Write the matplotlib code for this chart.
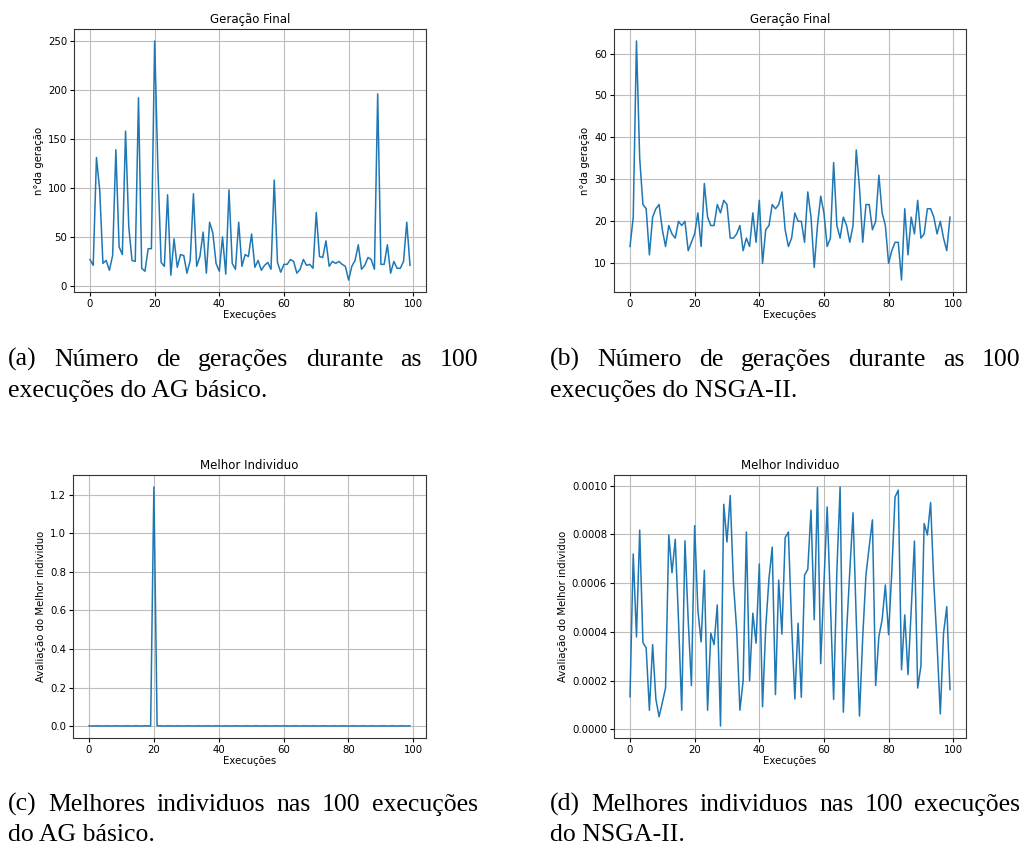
import numpy as np
import matplotlib
matplotlib.use("Agg")
from matplotlib import pyplot as plt

# execucoes 0..99
execucoes = np.arange(100)

# (a) geracao final - AG basico
ger_ag = [27, 21, 131, 98, 23, 26, 16, 31, 139, 40,
          32, 158, 60, 26, 25, 192, 18, 15, 38, 38,
          250, 120, 24, 20, 93, 11, 48, 19, 32, 31,
          13, 26, 94, 20, 30, 55, 13, 65, 54, 23,
          15, 50, 12, 98, 23, 17, 65, 20, 32, 30,
          53, 19, 26, 16, 21, 24, 17, 108, 24, 14,
          22, 22, 27, 25, 13, 17, 27, 21, 22, 18,
          75, 30, 29, 46, 20, 25, 23, 25, 22, 20,
          6, 20, 26, 42, 17, 21, 29, 27, 17, 196,
          22, 22, 42, 13, 25, 18, 18, 25, 65, 21]

# (b) geracao final - NSGA-II
ger_nsga = [14, 21, 63, 35, 24, 23, 12, 21, 23, 24,
            18, 14, 19, 17, 16, 20, 19, 20, 13, 15,
            17, 22, 14, 29, 21, 19, 19, 24, 22, 25,
            24, 16, 16, 17, 19, 13, 16, 14, 22, 15,
            25, 10, 18, 19, 24, 23, 24, 27, 18, 14,
            16, 22, 20, 20, 15, 27, 21, 9, 19, 26,
            22, 14, 16, 34, 19, 16, 21, 19, 15, 19,
            37, 28, 15, 24, 24, 18, 20, 31, 22, 19,
            10, 13, 15, 15, 6, 23, 12, 21, 17, 25,
            16, 17, 23, 23, 21, 17, 20, 16, 13, 21]

# (c) melhor individuo - AG basico
melhor_ag = [0.002, 0.001, 0.002, 0.002, 0.001, 0.002, 0.002, 0.001, 0.002, 0.002,
             0.001, 0.002, 0.002, 0.001, 0.002, 0.002, 0.001, 0.002, 0.002, 0.001,
             1.24, 0.003, 0.002, 0.001, 0.002, 0.002, 0.001, 0.002, 0.002, 0.001,
             0.002, 0.002, 0.001, 0.002, 0.002, 0.001, 0.002, 0.002, 0.001, 0.002,
             0.002, 0.001, 0.002, 0.002, 0.001, 0.002, 0.002, 0.001, 0.002, 0.002,
             0.001, 0.002, 0.002, 0.001, 0.002, 0.002, 0.001, 0.002, 0.002, 0.001,
             0.002, 0.002, 0.001, 0.002, 0.002, 0.001, 0.002, 0.002, 0.001, 0.002,
             0.002, 0.001, 0.002, 0.002, 0.001, 0.002, 0.002, 0.001, 0.002, 0.002,
             0.001, 0.002, 0.002, 0.001, 0.002, 0.002, 0.001, 0.002, 0.002, 0.001,
             0.002, 0.002, 0.001, 0.002, 0.002, 0.001, 0.002, 0.002, 0.001, 0.002]

# (d) melhor individuo - NSGA-II (x 1e-4)
melhor_nsga = [1.34, 7.2, 3.8, 8.18, 3.57, 3.34, 0.79, 3.48, 1.25, 0.52,
               1.1, 1.7, 7.98, 6.43, 7.8, 4.5, 0.79, 7.74, 4.5, 1.8,
               8.36, 4.9, 3.59, 6.53, 0.79, 3.95, 3.48, 5.11, 0.14, 9.24,
               7.69, 9.6, 6.0, 4.1, 0.79, 2.0, 8.1, 2.0, 4.77, 3.54,
               6.79, 0.93, 4.2, 6.2, 7.48, 1.43, 6.13, 3.91, 7.87, 8.1,
               4.3, 1.25, 4.36, 1.32, 6.33, 6.57, 9.0, 4.5, 9.93, 2.7,
               6.0, 9.13, 5.2, 1.23, 6.5, 9.95, 0.71, 4.0, 6.5, 8.89,
               4.5, 0.55, 3.8, 6.34, 7.5, 8.6, 1.8, 3.82, 4.5, 5.93,
               3.89, 6.5, 9.54, 9.82, 2.45, 4.7, 2.25, 4.9, 7.73, 1.7,
               2.6, 8.45, 7.98, 9.31, 6.0, 3.5, 0.64, 3.95, 5.04, 1.64]
melhor_nsga = np.array(melhor_nsga) * 1e-4

W, H = 1022, 846
fig = plt.figure(figsize=(W / 100, H / 100), dpi=100)

def box(l, t, r, b):
    return [l / W, 1 - b / H, (r - l) / W, (b - t) / H]

plots = [
    (box(74, 29, 426, 292), ger_ag, "Geração Final", "n°da geração"),
    (box(614, 29, 966, 292), ger_nsga, "Geração Final", "n°da geração"),
    (box(73, 475, 426, 738), melhor_ag, "Melhor Individuo", "Avaliação do Melhor individuo"),
    (box(614, 475, 966, 738), melhor_nsga, "Melhor Individuo", "Avaliação do Melhor individuo"),
]

for pos, y, titulo, ylab in plots:
    ax = fig.add_axes(pos)
    ax.plot(execucoes, y, color='#1f77b4', lw=1.1)
    ax.set_title(titulo, fontsize=8.5, pad=4)
    ax.set_xlabel("Execuções", fontsize=7.3, labelpad=1)
    ax.set_ylabel(ylab, fontsize=7.3, labelpad=3)
    ax.tick_params(labelsize=7.3, length=3, pad=2)
    ax.set_xticks([0, 20, 40, 60, 80, 100])
    ax.grid(True, color='#bdbdbd', lw=0.8)
    for s in ax.spines.values():
        s.set_color('#333333')

plots_ax = fig.axes
plots_ax[0].set_yticks([0, 50, 100, 150, 200, 250])
plots_ax[1].set_yticks([10, 20, 30, 40, 50, 60])
plots_ax[2].set_yticks([0.0, 0.2, 0.4, 0.6, 0.8, 1.0, 1.2])
plots_ax[3].set_yticks([0, 0.0002, 0.0004, 0.0006, 0.0008, 0.0010])
plots_ax[3].yaxis.set_major_formatter(matplotlib.ticker.FormatStrFormatter('%.4f'))

# legendas estilo LaTeX
cap_kw = dict(fontsize=18.5, family='Liberation Serif', va='baseline')
renderer = fig.canvas.get_renderer()

def justificada(texto, x0, x1, ybase):
    palavras = texto.split(" ")
    objs = [fig.text(0, 1 - ybase / H, p, **cap_kw) for p in palavras]
    larg = [o.get_window_extent(renderer).width for o in objs]
    esp = (x1 - x0 - sum(larg)) / (len(palavras) - 1)
    x = x0
    for o, w in zip(objs, larg):
        o.set_x(x / W)
        x += w + esp

def linha(texto, x0, ybase):
    fig.text(x0 / W, 1 - ybase / H, texto, **cap_kw)

justificada("(a) Número de gerações durante as 100", 8, 478, 366)
linha("execuções do AG básico.", 8, 397)
justificada("(b) Número de gerações durante as 100", 550, 1020, 366)
linha("execuções do NSGA-II.", 550, 397)
justificada("(c) Melhores individuos nas 100 execuções", 8, 478, 811)
linha("do AG básico.", 8, 841)
justificada("(d) Melhores individuos nas 100 execuções", 550, 1020, 811)
linha("do NSGA-II.", 550, 841)

fig.savefig("out.png", dpi=100)
